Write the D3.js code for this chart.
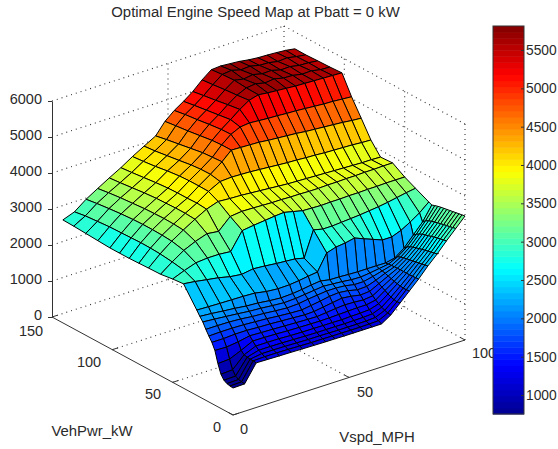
<!DOCTYPE html>
<html>
<head>
<meta charset="utf-8">
<script src="https://cdn.jsdelivr.net/npm/d3@7/dist/d3.min.js"></script>
<style>
  html, body { margin: 0; padding: 0; background: #fff; }
  text { font-family: "Liberation Sans", Arial, sans-serif; font-size: 14.5px; fill: #2a2a2a; }
</style>
</head>
<body>
<svg id="chart" width="558" height="449"></svg>
<script>
// axis values
const vspd = [0, 5, 10, 15, 20, 25, 30, 35, 40, 44, 48, 52, 56, 60, 64, 68, 72, 76, 80, 84, 88, 92, 96, 100];
const vehPwr = [0, 2.5, 5, 7.5, 10, 12.5, 15, 17.5, 20, 22.5, 25, 27.5, 30, 41, 50, 60, 70, 78, 86, 94, 102, 112, 122, 132, 141];

// engine speed, one row per vehPwr level
const engineSpeed = [
  [750,760,1240,1232,1225,1220,1212,1206,1200,1200,1195,1195,1195,1195,1195,1360,1610,1860,2110,2390,2640,2920,3180,3444],
  [760,770,1250,1262,1260,1255,1245,1236,1235,1230,1230,1225,1225,1230,1240,1370,1600,1850,2100,2370,2620,2900,3160,3430],
  [780,790,1250,1300,1300,1295,1285,1276,1275,1270,1265,1265,1265,1270,1285,1400,1610,1850,2095,2350,2600,2880,3140,3415],
  [830,840,1260,1350,1350,1345,1335,1326,1320,1320,1320,1315,1320,1325,1340,1440,1640,1860,2090,2335,2580,2860,3125,3400],
  [950,970,1280,1420,1420,1415,1400,1391,1390,1385,1385,1380,1390,1395,1410,1490,1680,1880,2090,2320,2560,2840,3105,3385],
  [1200,1220,1360,1515,1510,1500,1485,1476,1470,1465,1470,1480,1490,1500,1500,1550,1730,1900,2090,2300,2540,2815,3085,3370],
  [1520,1510,1550,1615,1600,1590,1575,1562,1550,1545,1570,1600,1620,1610,1590,1620,1780,1930,2090,2285,2515,2790,3065,3355],
  [1700,1700,1720,1720,1700,1690,1670,1652,1630,1640,1680,1720,1760,1730,1680,1700,1830,1960,2090,2270,2490,2765,3040,3340],
  [1830,1840,1840,1830,1810,1790,1760,1735,1720,1760,1800,1850,1870,1840,1780,1790,1880,1990,2085,2250,2465,2740,3015,3325],
  [1970,1970,1965,1945,1910,1890,1860,1835,1850,1890,1920,1950,1950,1930,1880,1880,1940,2010,2080,2225,2430,2700,2985,3305],
  [2130,2105,2075,2045,2010,1990,1960,1935,1950,1980,2010,2040,2020,2000,1970,1960,1990,2030,2070,2190,2380,2650,2940,3280],
  [2240,2215,2180,2150,2110,2090,2050,2025,2040,2070,2110,2140,2090,2085,2070,2060,2060,2060,2055,2110,2300,2580,2860,3250],
  [2370,2358,2348,2342,2335,2320,2260,2232,2240,2270,2310,2344,2790,2870,2900,2955,2850,2750,2650,2650,2750,2900,3070,3290],
  [2900,2860,2805,2755,2680,2640,2690,2665,2630,2610,2590,2530,3230,3170,3170,3190,3210,3230,3260,3290,3330,3380,3430,3470],
  [2870,3000,3110,3140,3140,3110,3590,3635,3670,3700,3720,3660,3600,3590,3580,3590,3590,3600,3600,3610,3610,3620,3620,3620],
  [2820,3060,3275,3420,3530,3490,3800,3838,3830,3820,3810,3810,3800,3800,3790,3790,3800,3800,3810,3810,3820,3820,3830,3830],
  [2810,3100,3350,3555,3750,3925,4035,4012,4000,3980,3960,3940,3920,3900,3890,3880,3870,3860,3850,3840,3830,3820,3820,3810],
  [2800,3115,3370,3575,3770,3950,4170,4340,4360,4350,4340,4320,4300,4280,4260,4250,4230,4220,4200,4190,4180,4170,4150,4140],
  [2790,3120,3380,3585,3770,3940,4175,4395,4640,4880,4870,4860,4850,4820,4800,4780,4760,4730,4710,4690,4670,4650,4620,4600],
  [2790,3110,3380,3575,3760,3940,4175,4390,4620,4880,5090,5210,5240,5220,5200,5190,5170,5160,5140,5120,5100,5090,5070,5050],
  [2790,3100,3370,3565,3750,3930,4160,4365,4600,4860,5080,5270,5470,5640,5710,5680,5660,5640,5620,5610,5600,5590,5580,5570],
  [2810,3090,3345,3535,3720,3900,4120,4310,4540,4810,5040,5220,5420,5600,5720,5750,5690,5720,5660,5650,5600,5610,5560,5550],
  [2830,3060,3310,3505,3680,3860,4065,4260,4480,4760,4990,5170,5360,5570,5750,5700,5740,5680,5690,5620,5630,5580,5570,5540],
  [2850,3030,3270,3465,3640,3820,4025,4210,4420,4720,4950,5120,5310,5530,5730,5760,5690,5710,5650,5640,5590,5610,5560,5525],
  [2860,2980,3225,3420,3610,3790,3995,4180,4360,4680,4900,5070,5260,5500,5700,5720,5700,5680,5640,5615,5605,5590,5570,5530]
];

const zTicks = [0, 1000, 2000, 3000, 4000, 5000, 6000];
const vTicks = [0, 50, 100];
const pTicks = [0, 50, 100, 150];
const barTicks = [1000, 1500, 2000, 2500, 3000, 3500, 4000, 4500, 5000, 5500];
const jetStops = ["#00008f", "#0000ff", "#00ffff", "#ffff00", "#ff0000", "#800000"];

const svg = d3.select("#chart");

// orthographic view: each data axis moves the point by a fixed screen vector
const ox = 233, oy = 415;
const vX = d3.scaleLinear().domain([0, 100]).range([0, 232]);
const vY = d3.scaleLinear().domain([0, 100]).range([0, -75]);
const pX = d3.scaleLinear().domain([0, 150]).range([0, -181]);
const pY = d3.scaleLinear().domain([0, 150]).range([0, -98]);
const zY = d3.scaleLinear().domain([0, 6000]).range([0, -216]);

function project(v, p, z) {
  return [ox + vX(v) + pX(p), oy + vY(v) + pY(p) + zY(z)];
}

// jet colormap, 64 levels like the colorbar
const jetAt = d3.scaleLinear().domain([0, 0.125, 0.375, 0.625, 0.875, 1]).range(jetStops).interpolate(d3.interpolateRgb);
const jet64 = d3.range(64).map(function(k) { return jetAt((k + 0.5) / 64); });
const cMin = 752, cMax = 5813;
const color = d3.scaleQuantize().domain([cMin, cMax]).range(jet64);

// dotted box behind the surface
const grid = svg.append("g")
  .attr("fill", "none").attr("stroke", "#333").attr("stroke-width", 1.1).attr("stroke-dasharray", "1 4");

function gridLine(a, b) {
  grid.append("line")
    .attr("x1", a[0]).attr("y1", a[1])
    .attr("x2", b[0]).attr("y2", b[1]);
}

zTicks.slice(1).forEach(function(z) {
  gridLine(project(0, 150, z), project(100, 150, z));
  gridLine(project(100, 150, z), project(100, 0, z));
});
[50, 100].forEach(function(p) {
  gridLine(project(0, p, 0), project(100, p, 0));
  gridLine(project(100, p, 0), project(100, p, 6000));
});
[50].forEach(function(v) {
  gridLine(project(v, 0, 0), project(v, 150, 0));
  gridLine(project(v, 150, 0), project(v, 150, 6000));
});
gridLine(project(0, 150, 0), project(100, 150, 0));
gridLine(project(100, 150, 0), project(100, 0, 0));
gridLine(project(100, 150, 0), project(100, 150, 6000));
gridLine(project(100, 0, 0), project(100, 0, 6000));

// axes lines on the floor and the z axis
const axes = svg.append("g").attr("stroke", "#333").attr("stroke-width", 1).attr("fill", "none");
function axisLine(a, b) {
  axes.append("line").attr("x1", a[0]).attr("y1", a[1]).attr("x2", b[0]).attr("y2", b[1]);
}
axisLine(project(0, 0, 0), project(100, 0, 0));
axisLine(project(0, 0, 0), project(0, 150, 0));
vTicks.forEach(function(v) { axisLine(project(v, 0, 0), project(v, 4, 0)); });
pTicks.forEach(function(p) { axisLine(project(0, p, 0), project(2.5, p, 0)); });

const zAxisScale = d3.scaleLinear().domain([0, 6000]).range([project(0, 150, 0)[1], project(0, 150, 6000)[1]]);
const zAxis = svg.append("g")
  .attr("transform", "translate(" + project(0, 150, 0)[0] + ",0)")
  .call(d3.axisLeft(zAxisScale).tickValues(zTicks).tickFormat(d3.format("d")).tickSize(4).tickPadding(6).tickSizeOuter(0));
zAxis.select(".domain").attr("stroke", "#333");
zAxis.selectAll(".tick line").attr("stroke", "#333");
zAxis.selectAll("text").attr("dy", "0.2em").style("font-size", "14.5px").style("font-family", '"Liberation Sans", Arial, sans-serif').attr("fill", "#2a2a2a");

// floor tick labels
const vLabels = [[0, 244, 434], [50, 365, 397], [100, 484, 358]];
const pLabels = [[0, 217, 432], [50, 153, 399], [100, 89, 367], [150, 31, 336]];
vLabels.concat(pLabels).forEach(function(d) {
  svg.append("text").attr("x", d[1]).attr("y", d[2]).attr("text-anchor", "middle").text(d[0]);
});

// surface cells, far corner first so nearer cells paint over
const cells = [];
for (let i = vehPwr.length - 2; i >= 0; i--) {
  for (let j = vspd.length - 2; j >= 0; j--) {
    cells.push({i: i, j: j});
  }
}
const line = d3.line();
svg.append("g").selectAll("path")
  .data(cells)
  .enter().append("path")
    .attr("d", function(d) {
      const i = d.i, j = d.j;
      return line([
        project(vspd[j], vehPwr[i], engineSpeed[i][j]),
        project(vspd[j + 1], vehPwr[i], engineSpeed[i][j + 1]),
        project(vspd[j + 1], vehPwr[i + 1], engineSpeed[i + 1][j + 1]),
        project(vspd[j], vehPwr[i + 1], engineSpeed[i + 1][j])
      ]) + "Z";
    })
    .attr("fill", function(d) { return color(engineSpeed[d.i][d.j]); })
    .attr("stroke", "#000")
    .attr("stroke-width", 1)
    .attr("stroke-linejoin", "round");

// colorbar
const barX = 493, barW = 31, barTop = 26, barBottom = 414;
const barScale = d3.scaleLinear().domain([cMin, cMax]).range([barBottom, barTop]);
const levels = d3.range(64);
const levelH = (barBottom - barTop) / 64;
svg.append("g").selectAll("rect")
  .data(levels)
  .enter().append("rect")
    .attr("x", barX)
    .attr("y", function(k) { return barBottom - (k + 1) * levelH; })
    .attr("width", barW)
    .attr("height", levelH + 0.5)
    .attr("fill", function(k) { return jet64[k]; });
svg.append("rect")
  .attr("x", barX).attr("y", barTop).attr("width", barW).attr("height", barBottom - barTop)
  .attr("fill", "none").attr("stroke", "#333");
const barAxis = svg.append("g")
  .attr("transform", "translate(" + (barX + barW) + ",0)")
  .call(d3.axisRight(barScale).tickValues(barTicks).tickFormat(d3.format("d")).tickSize(-3).tickPadding(2).tickSizeOuter(0));
barAxis.select(".domain").remove();
barAxis.selectAll(".tick line").attr("stroke", "#333");
barAxis.selectAll("text").style("font-size", "13.8px").style("font-family", '"Liberation Sans", Arial, sans-serif').attr("fill", "#2a2a2a");

// title and axis labels
svg.append("text").attr("x", 255.5).attr("y", 17).attr("text-anchor", "middle").style("font-size", "14.9px").text("Optimal Engine Speed Map at Pbatt = 0 kW");
svg.append("text").attr("x", 92).attr("y", 436).attr("text-anchor", "middle").style("font-size", "14.9px").text("VehPwr_kW");
svg.append("text").attr("x", 377).attr("y", 442).attr("text-anchor", "middle").style("font-size", "14.9px").text("Vspd_MPH");
</script>
</body>
</html>
